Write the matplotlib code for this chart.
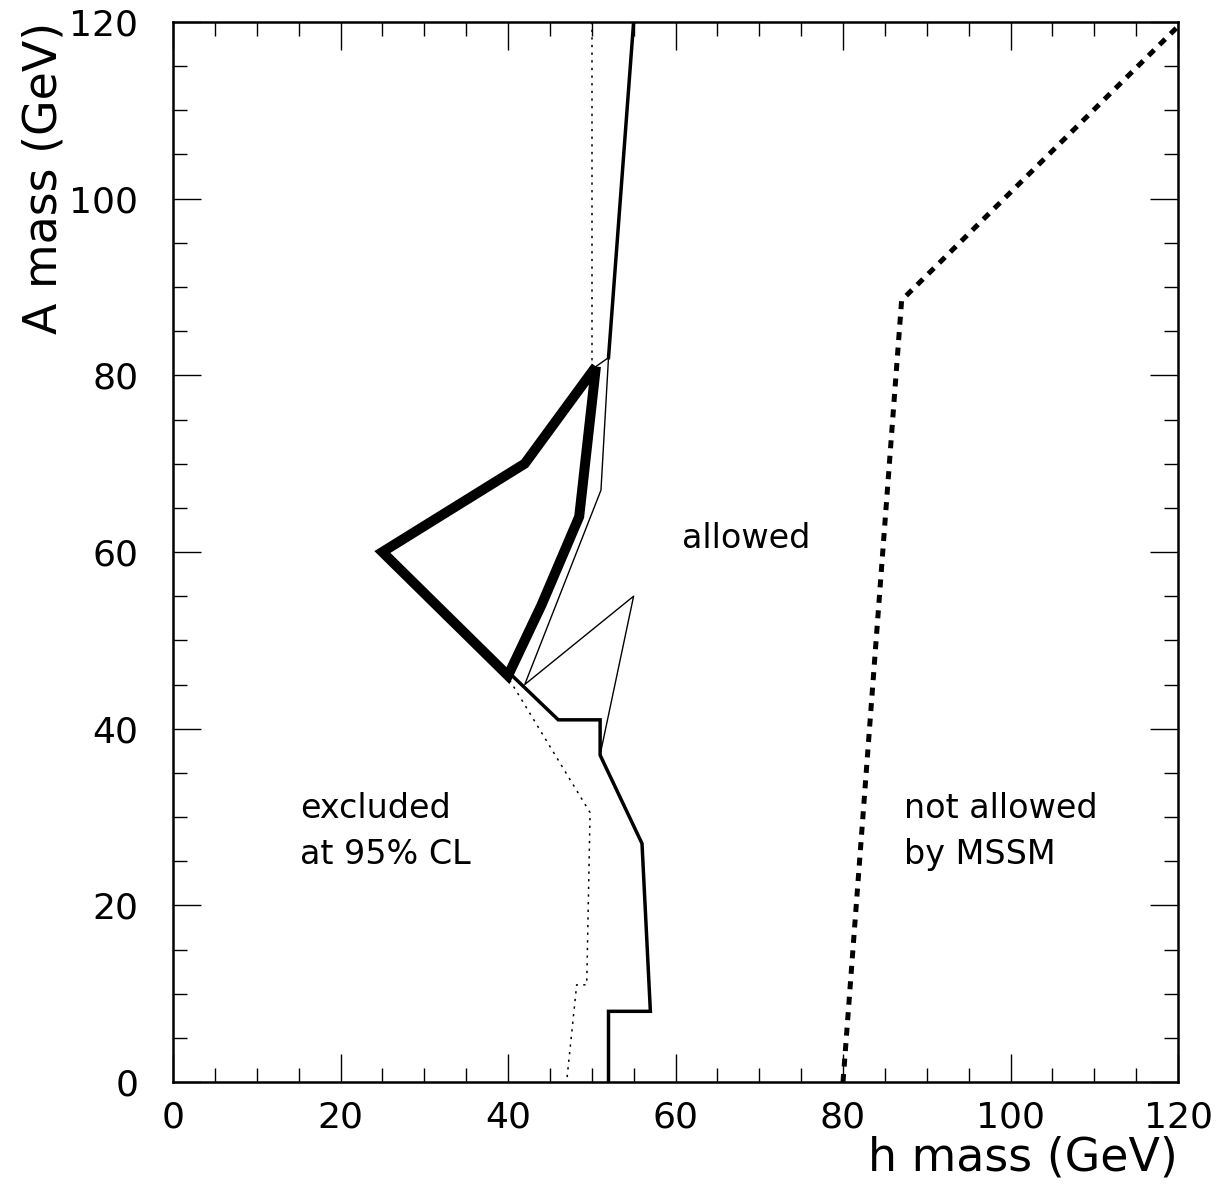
import matplotlib
matplotlib.use("Agg")
import matplotlib.pyplot as plt
from matplotlib.ticker import MultipleLocator

# ---- data (h mass, A mass) in GeV ----
thick_x = [50.5, 48.5, 44.0, 40.0, 25.0, 42.0, 50.5]
thick_y = [81.0, 64.0, 54.0, 46.0, 60.0, 70.0, 81.0]

med_upper_x = [52.0, 55.0]
med_upper_y = [82.0, 120.0]
med_lower_x = [40.5, 46.0, 51.0, 51.0, 56.0, 57.0, 52.0, 52.0]
med_lower_y = [46.0, 41.0, 41.0, 37.0, 27.0, 8.0, 8.0, 0.0]

thin_x = [50.5, 52.0, 51.1, 42.0, 55.0, 51.1]
thin_y = [81.0, 82.0, 67.0, 45.0, 55.0, 37.5]

dot_upper_x = [50.0, 50.0]
dot_upper_y = [120.0, 80.0]
dot_lower_x = [40.2, 49.8, 49.4, 48.2, 47.0]
dot_lower_y = [45.5, 30.5, 11.0, 11.0, 0.0]

mssm_x = [80.0, 87.0, 120.0]
mssm_y = [0.0, 88.5, 119.5]

x_ticks = [0, 20, 40, 60, 80, 100, 120]
y_ticks = [0, 20, 40, 60, 80, 100, 120]

plt.rcParams['font.family'] = ['DejaVu Sans']

fig = plt.figure(figsize=(12.23, 11.89), dpi=100)
ax = fig.add_axes([173/1223, 1 - 1082/1189, (1178-173)/1223, (1082-22)/1189])

ax.plot(thick_x, thick_y, color='black', lw=7.2, solid_joinstyle='miter', solid_capstyle='butt')
ax.plot(med_upper_x, med_upper_y, color='black', lw=2.5)
ax.plot(med_lower_x, med_lower_y, color='black', lw=2.5, solid_joinstyle='miter')
ax.plot(thin_x, thin_y, color='black', lw=1.0)
ax.plot(dot_upper_x, dot_upper_y, color='black', lw=1.1, ls=(0, (1.5, 3.5)))
ax.plot(dot_lower_x, dot_lower_y, color='black', lw=1.1, ls=(0, (1.5, 3.5)))
ax.plot(mssm_x, mssm_y, color='black', lw=3.6, ls=(0, (1.6, 1.5)), dash_capstyle='butt')

ax.set_xlim(0, 120)
ax.set_ylim(0, 120)
ax.set_xticks(x_ticks)
ax.set_yticks(y_ticks)
ax.xaxis.set_minor_locator(MultipleLocator(5))
ax.yaxis.set_minor_locator(MultipleLocator(5))
ax.tick_params(which='both', direction='in', top=True, right=True, width=1.0)
ax.tick_params(which='major', length=20, labelsize=26)
ax.tick_params(which='minor', length=10)
ax.tick_params(axis='x', which='major', pad=13)
ax.tick_params(axis='y', which='major', pad=25)
for s in ax.spines.values():
    s.set_linewidth(1.8)

ax.set_xlabel('h mass (GeV)', fontsize=33, loc='right', labelpad=1)
ax.set_ylabel('A mass (GeV)', fontsize=33, loc='top', labelpad=2)

ax.text(68.4, 61.5, 'allowed', fontsize=24, ha='center', va='center')
ax.text(15.2, 28.4, 'excluded\nat 95% CL', fontsize=24, ha='left', va='center', linespacing=1.5)
ax.text(87.3, 28.4, 'not allowed\nby MSSM', fontsize=24, ha='left', va='center', linespacing=1.5)

fig.savefig('out.png', dpi=100)
